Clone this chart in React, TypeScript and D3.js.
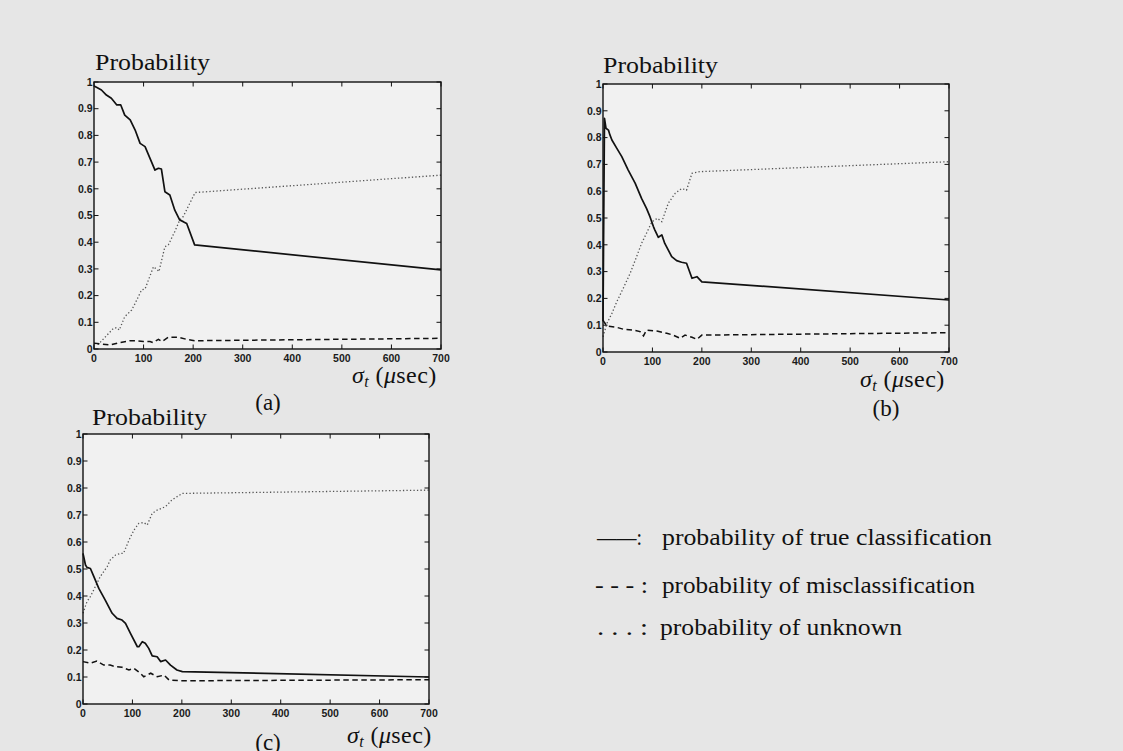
import React from "react";
import * as d3 from "d3";

type Pt = [number, number];

// ---- data (x = sigma_t in usec, y = probability) ----
const xTicks = [0, 100, 200, 300, 400, 500, 600, 700];
const yTicks = [0, 0.1, 0.2, 0.3, 0.4, 0.5, 0.6, 0.7, 0.8, 0.9, 1];
const yTickLabels = ["0", "0.1", "0.2", "0.3", "0.4", "0.5", "0.6", "0.7", "0.8", "0.9", "1"];

const aTrue: Pt[] = [[0,0.985],[5,0.98],[15,0.97],[25,0.951],[35,0.939],[46,0.914],[54,0.914],[62,0.876],[73,0.858],[83,0.82],[93,0.77],[103,0.758],[113,0.714],[123,0.67],[130,0.677],[136,0.674],[143,0.589],[153,0.577],[163,0.52],[173,0.483],[180,0.477],[187,0.47],[203,0.39],[700,0.296]];
const aMis: Pt[] = [[0,0.022],[12,0.019],[32,0.015],[52,0.024],[73,0.031],[86,0.031],[100,0.028],[113,0.028],[119,0.024],[130,0.036],[137,0.028],[150,0.044],[170,0.044],[187,0.036],[204,0.031],[700,0.04]];
const aUnk: Pt[] = [[0,0.02],[9,0.018],[39,0.077],[46,0.08],[51,0.071],[62,0.121],[76,0.146],[83,0.171],[96,0.221],[103,0.225],[120,0.308],[128,0.296],[131,0.29],[143,0.383],[150,0.39],[163,0.44],[173,0.483],[180,0.496],[204,0.586],[700,0.651]];

const bTrue: Pt[] = [[0,0.115],[3,0.872],[6,0.835],[11,0.828],[14,0.81],[18,0.791],[28,0.76],[38,0.729],[51,0.679],[65,0.63],[78,0.573],[88,0.536],[95,0.505],[102,0.468],[105,0.455],[112,0.428],[119,0.437],[125,0.405],[139,0.356],[149,0.341],[159,0.335],[169,0.331],[180,0.275],[190,0.281],[200,0.262],[700,0.194]];
const bMis: Pt[] = [[0,0.119],[3,0.11],[8,0.097],[28,0.092],[41,0.085],[61,0.082],[75,0.076],[82,0.06],[88,0.082],[109,0.078],[129,0.07],[142,0.063],[156,0.051],[166,0.063],[180,0.055],[190,0.047],[200,0.063],[700,0.072]];
const bUnk: Pt[] = [[0,0.057],[8,0.107],[18,0.144],[28,0.188],[41,0.238],[55,0.294],[68,0.356],[78,0.405],[88,0.443],[99,0.486],[110,0.499],[119,0.486],[132,0.555],[146,0.592],[159,0.61],[169,0.604],[180,0.667],[196,0.673],[700,0.71]];

const cTrue: Pt[] = [[0,0.558],[5,0.515],[8,0.506],[15,0.502],[22,0.472],[32,0.428],[45,0.385],[59,0.336],[69,0.317],[79,0.311],[86,0.299],[96,0.262],[110,0.212],[113,0.212],[120,0.231],[126,0.225],[133,0.206],[140,0.178],[150,0.175],[157,0.157],[167,0.163],[177,0.144],[190,0.126],[201,0.12],[700,0.1]];
const cMis: Pt[] = [[0,0.157],[15,0.151],[28,0.159],[42,0.144],[55,0.144],[66,0.138],[79,0.136],[93,0.126],[103,0.132],[116,0.114],[123,0.101],[137,0.114],[150,0.101],[164,0.107],[174,0.089],[197,0.086],[700,0.09]];
const cUnk: Pt[] = [[0,0.336],[8,0.379],[15,0.398],[25,0.435],[35,0.472],[49,0.509],[55,0.533],[66,0.552],[76,0.558],[82,0.558],[93,0.607],[103,0.644],[113,0.669],[123,0.672],[130,0.663],[140,0.706],[150,0.718],[167,0.731],[180,0.756],[201,0.78],[700,0.792]];

const panelLetters = ["(a)", "(b)", "(c)"];
const legendLabels = [
  "probability of true classification",
  "probability of misclassification",
  "probability of unknown",
];
const legendMarks = ["\u2014\u2014:", "- - - :", ". . . :"];

const SERIF = "'Liberation Serif', 'Times New Roman', serif";
const SANS = "'Liberation Sans', Arial, sans-serif";

interface PanelProps {
  left: number; right: number; top: number; bottom: number;
  trueS: Pt[]; misS: Pt[]; unkS: Pt[];
  titleX: number; titleY: number;
  xlabX: number; xlabY: number;
  letter: string; letterX: number; letterY: number;
}

function Panel(p: PanelProps) {
  const x = d3.scaleLinear().domain([0, 700]).range([p.left, p.right]);
  const y = d3.scaleLinear().domain([0, 1]).range([p.bottom, p.top]);
  const line = d3.line<Pt>().x((d) => x(d[0])).y((d) => y(d[1]));
  const tl = 4.5;
  return (
    <g>
      <rect x={p.left} y={p.top} width={p.right - p.left} height={p.bottom - p.top} fill="#f1f1f1" />
      <path d={line(p.unkS) || ""} fill="none" stroke="#555" strokeWidth={1.3} strokeDasharray="1.3 2.2" />
      <path d={line(p.misS) || ""} fill="none" stroke="#111" strokeWidth={1.5} strokeDasharray="5.5 3.5" />
      <path d={line(p.trueS) || ""} fill="none" stroke="#111" strokeWidth={1.7} strokeLinejoin="round" />
      <rect x={p.left} y={p.top} width={p.right - p.left} height={p.bottom - p.top} fill="none" stroke="#111" strokeWidth={1.4} />
      {xTicks.map((t) => (
        <g key={"x" + t}>
          <line x1={x(t)} x2={x(t)} y1={p.bottom} y2={p.bottom - tl} stroke="#111" strokeWidth={1} />
          <line x1={x(t)} x2={x(t)} y1={p.top} y2={p.top + tl} stroke="#111" strokeWidth={1} />
          <text x={x(t)} y={p.bottom + 13} textAnchor="middle" fontFamily={SANS} fontWeight="bold" fontSize={10.5} fill="#1a1a1a">{t}</text>
        </g>
      ))}
      {yTicks.map((t, i) => (
        <g key={"y" + t}>
          <line x1={p.left} x2={p.left + tl} y1={y(t)} y2={y(t)} stroke="#111" strokeWidth={1} />
          <line x1={p.right} x2={p.right - tl} y1={y(t)} y2={y(t)} stroke="#111" strokeWidth={1} />
          <text x={p.left - 1.5} y={y(t) + 3.7} textAnchor="end" fontFamily={SANS} fontWeight="bold" fontSize={10.5} fill="#1a1a1a">{yTickLabels[i]}</text>
        </g>
      ))}
      <text x={p.titleX} y={p.titleY} fontFamily={SERIF} fontSize={23} textLength={115} lengthAdjust="spacingAndGlyphs" fill="#111">Probability</text>
      <text x={p.xlabX} y={p.xlabY} fontFamily={SERIF} fontSize={24} fill="#111" letterSpacing={0.4}>
        <tspan fontStyle="italic">σ</tspan>
        <tspan fontStyle="italic" fontSize={16} dy={4}>t</tspan>
        <tspan dy={-4}> (</tspan>
        <tspan fontStyle="italic">μ</tspan>
        <tspan>sec)</tspan>
      </text>
      <text x={p.letterX} y={p.letterY} textAnchor="middle" fontFamily={SERIF} fontSize={23} fill="#111">{p.letter}</text>
    </g>
  );
}

export default function App() {
  const legendY = [545, 593, 635];
  const legendMarkX = [597, 595, 597];
  const legendMarkW = [45, 53, 51];
  const legendTextX = [662, 662, 660];
  const legendTextW = [330, 313, 242];
  return (
    <div style={{ position: "absolute", left: 0, top: 0, width: 1123, height: 751, overflow: "hidden" }}>
      <svg width={1123} height={751} viewBox="0 0 1123 751" style={{ display: "block" }}>
        <rect x={0} y={0} width={1123} height={751} fill="#e6e6e6" />
        <Panel left={94} right={441} top={82} bottom={349} trueS={aTrue} misS={aMis} unkS={aUnk}
          titleX={95} titleY={70} xlabX={352} xlabY={383} letter={panelLetters[0]} letterX={268} letterY={410} />
        <Panel left={603} right={949} top={84} bottom={352} trueS={bTrue} misS={bMis} unkS={bUnk}
          titleX={603} titleY={73} xlabX={860} xlabY={387} letter={panelLetters[1]} letterX={886} letterY={416} />
        <Panel left={83} right={429} top={434} bottom={704} trueS={cTrue} misS={cMis} unkS={cUnk}
          titleX={92} titleY={425} xlabX={347} xlabY={743} letter={panelLetters[2]} letterX={268} letterY={750} />
        {legendLabels.map((lab, i) => (
          <g key={lab}>
            <text x={legendMarkX[i]} y={legendY[i]} fontFamily={SERIF} fontSize={23} textLength={legendMarkW[i]} lengthAdjust="spacingAndGlyphs" fill="#111">{legendMarks[i]}</text>
            <text x={legendTextX[i]} y={legendY[i]} fontFamily={SERIF} fontSize={23} textLength={legendTextW[i]} lengthAdjust="spacingAndGlyphs" fill="#111">{lab}</text>
          </g>
        ))}
      </svg>
    </div>
  );
}
